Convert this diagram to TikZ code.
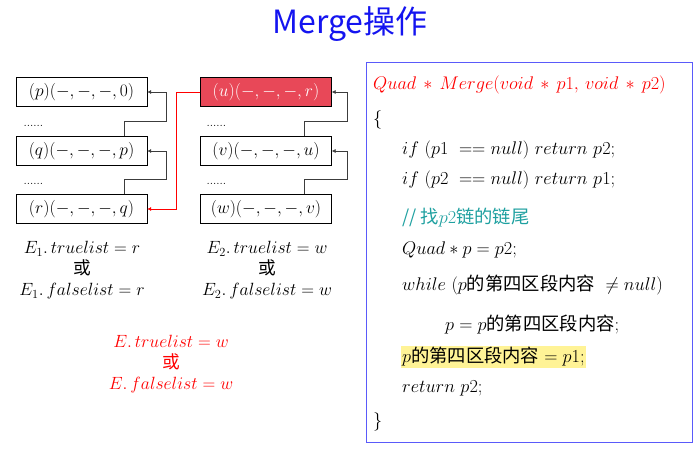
\RequirePackage{fix-cm}
\documentclass[tikz,border=0pt]{standalone}
\usepackage{fontspec}
\newfontfamily\cjk{Noto Sans CJK SC}
\usetikzlibrary{arrows.meta,positioning,calc}
\definecolor{mgblue}{RGB}{20,20,240}
\definecolor{mgred}{RGB}{232,72,88}
\definecolor{mgtxt}{RGB}{255,0,0}
\definecolor{mgteal}{RGB}{30,160,160}
\definecolor{mgframe}{RGB}{90,90,250}
\definecolor{mghl}{RGB}{255,243,150}
\definecolor{mggray}{RGB}{60,60,60}

\begin{document}
\begin{tikzpicture}[x=1pt,y=-1pt,
  lbox/.style={draw,minimum width=131pt,minimum height=29pt,inner sep=0pt,font=\fontsize{17.5}{18}\selectfont},
  dots/.style={anchor=west,font=\fontsize{12}{14}\selectfont},
  link/.style={-{Latex[length=4pt,width=4pt]},mggray,semithick},
  redlink/.style={-{Latex[length=4pt,width=4pt]},red,semithick},
  lab/.style={align=center,font=\fontsize{17.7}{21}\selectfont},
  code/.style={anchor=west,inner sep=1pt,font=\fontsize{18.3}{20}\selectfont}
]
\useasboundingbox (0,0) rectangle (699,458);
\node[text=mgblue,font=\cjk\fontsize{32}{36}\selectfont] (title) at (350,24) {Merge操作};

% list of E1
\node[lbox] (p) at (81.5,92) {$(p)(-,-,-,0)$};
\node[lbox] (q) at (81.5,151) {$(q)(-,-,-,p)$};
\node[lbox] (r) at (81.5,209) {$(r)(-,-,-,q)$};
\node[dots] (d1) at (20,126) {......};
\node[dots] (d2) at (20,184) {......};

% list of E2
\node[lbox,fill=mgred,text=white] (u) at (266,92) {$(u)(-,-,-,r)$};
\node[lbox] (v) at (266,151) {$(v)(-,-,-,u)$};
\node[lbox] (w) at (266,209) {$(w)(-,-,-,v)$};
\node[dots] (d3) at (203,126) {......};
\node[dots] (d4) at (203,184) {......};

\draw[link] ([xshift=-23pt]q.north east) -- ++(0,-15) -| ([xshift=19pt]p.east) -- (p.east);
\draw[link] ([xshift=-23pt]r.north east) -- ++(0,-15) -| ([xshift=19pt]q.east) -- (q.east);
\draw[link] ([xshift=-27pt]v.north east) -- ++(0,-15) -| ([xshift=16pt]u.east) -- (u.east);
\draw[link] ([xshift=-27pt]w.north east) -- ++(0,-15) -| ([xshift=16pt]v.east) -- (v.east);
\draw[redlink] (u.west) -- ++(-24,0) |- (r.east);

\node[lab] (e1) at (82,270) {$E_1.\,truelist = r$\\{\cjk 或}\\$E_1.\,falselist = r$};
\node[lab] (e2) at (267,270) {$E_2.\,truelist = w$\\{\cjk 或}\\$E_2.\,falselist = w$};
\node[lab,text=mgtxt] (e) at (171,364) {$E.\,truelist = w$\\{\cjk 或}\\$E.\,falselist = w$};

% code of Merge
\draw[mgframe,thick] (366,62) rectangle (692,442);
\node[code,text=mgtxt] (c1) at (372,85) {$Quad\,*\,Merge(void\,*\,p1,\,void\,*\,p2)$};
\node[code] (c2) at (372,120) {$\{$};
\node[code] (c3) at (401,150) {$if~(p1~== null)~return~p2;$};
\node[code] (c4) at (401,180) {$if~(p2~== null)~return~p1;$};
\node[code,text=mgteal] (c5) at (401,218) {{\cjk // 找}$p2${\cjk 链的链尾}};
\node[code] (c6) at (401,250) {$Quad * p = p2;$};
\node[code] (c7) at (401,285) {$while~\bigl(p${\cjk 的第四区段内容}${}~\neq null\bigr)$};
\node[code] (c8) at (444,325) {$p = p${\cjk 的第四区段内容}$;$};
\node[code,fill=mghl] (c9) at (401,357) {$p${\cjk 的第四区段内容}${} = p1;$};
\node[code] (c10) at (401,388) {$return~p2;$};
\node[code] (c11) at (372,422) {$\}$};
\end{tikzpicture}
\end{document}
